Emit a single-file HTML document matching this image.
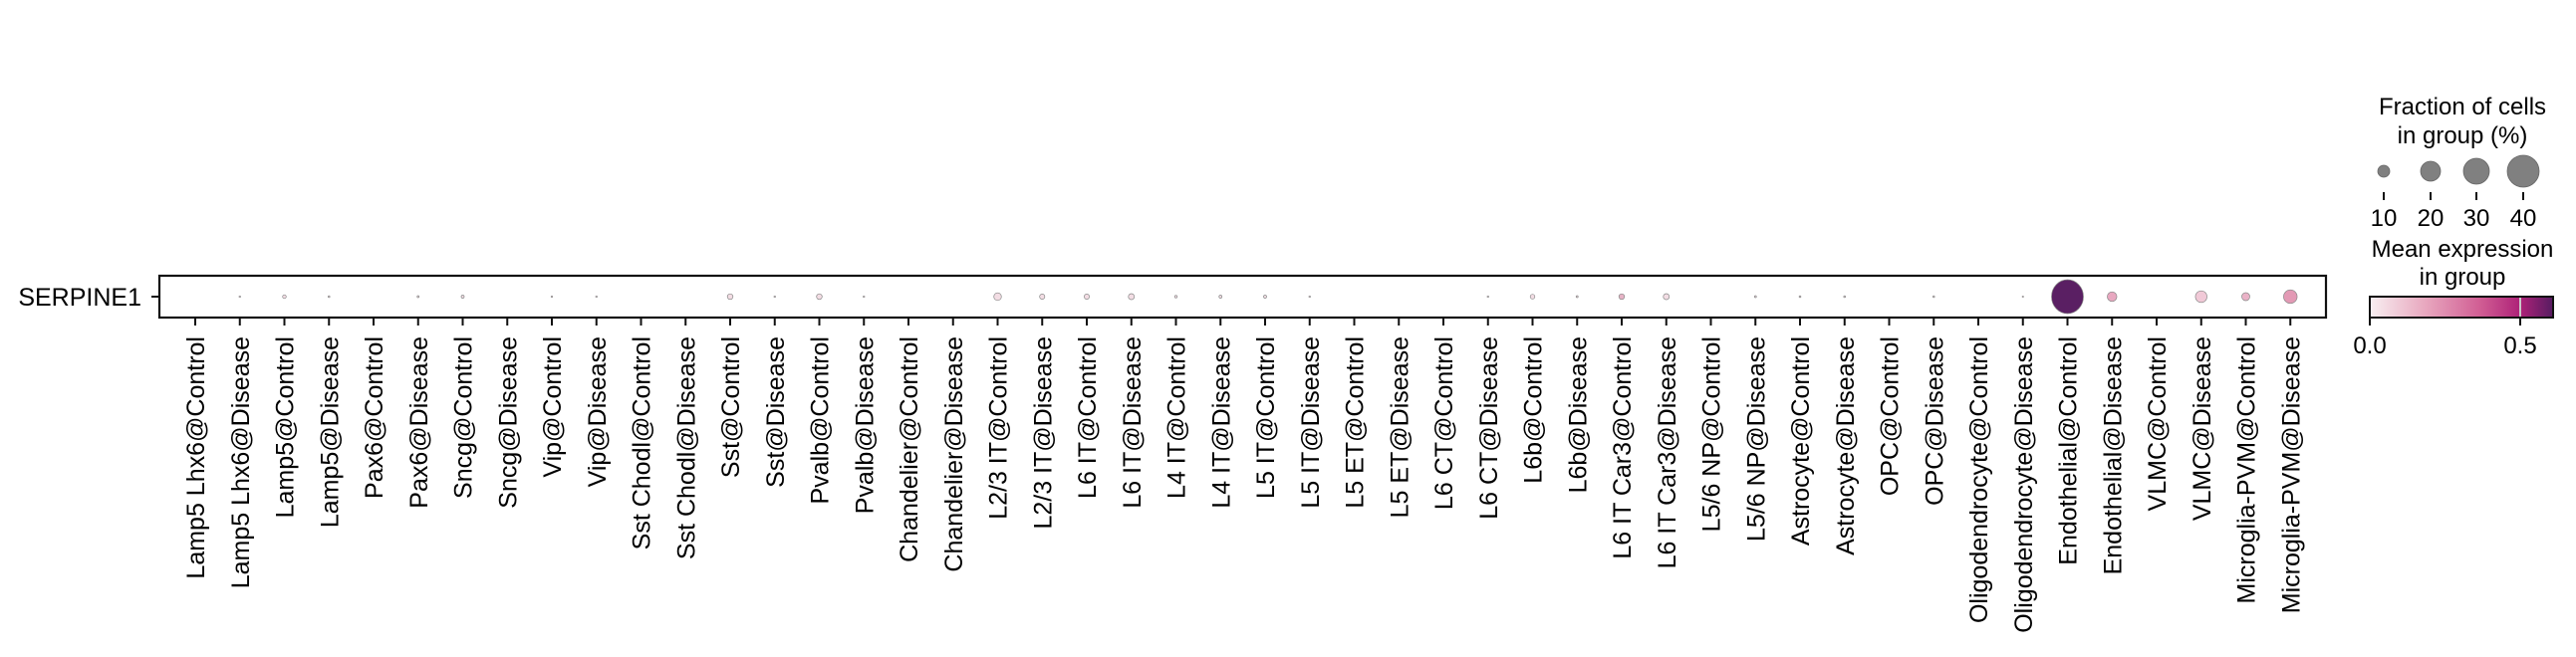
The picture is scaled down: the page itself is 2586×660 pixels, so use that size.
<!DOCTYPE html>
<html><head><meta charset="utf-8"><style>
html,body{margin:0;padding:0;background:#fff;}
svg{display:block;font-family:"Liberation Sans",Arial,sans-serif;}
</style></head><body>
<svg width="2586" height="660" viewBox="0 0 2586 660" xmlns="http://www.w3.org/2000/svg">
<defs>
<linearGradient id="cb" x1="0" x2="1" y1="0" y2="0">
<stop offset="0" stop-color="#f8eff1"/>
<stop offset="0.3" stop-color="#e8a8bf"/>
<stop offset="0.6" stop-color="#d15e94"/>
<stop offset="0.82" stop-color="#ae2278"/>
<stop offset="1" stop-color="#561c61"/>
</linearGradient>
</defs>
<!-- main box -->
<rect x="160" y="277" width="2175" height="42" fill="none" stroke="#111" stroke-width="2.2"/>
<line x1="152" y1="298" x2="160" y2="298" stroke="#111" stroke-width="2"/>
<text x="142" y="307" font-size="25" text-anchor="end">SERPINE1</text>
<!-- dots -->
<g stroke="#888" stroke-width="0.7" fill="#f3dde4">
<circle cx="240.75" cy="298" r="0.8"/>
<circle cx="285.5" cy="298" r="1.8"/>
<circle cx="330.25" cy="298" r="0.9"/>
<circle cx="419.75" cy="298" r="1"/>
<circle cx="464.5" cy="298" r="1.5"/>
<circle cx="554" cy="298" r="0.8"/>
<circle cx="598.75" cy="298" r="0.8"/>
<circle cx="733" cy="298" r="2.8"/>
<circle cx="777.75" cy="298" r="0.8"/>
<circle cx="822.5" cy="298" r="2.8"/>
<circle cx="867.25" cy="298" r="0.8"/>
<circle cx="1001.5" cy="298" r="3.8"/>
<circle cx="1046.25" cy="298" r="2.6"/>
<circle cx="1091" cy="298" r="2.6"/>
<circle cx="1135.75" cy="298" r="3"/>
<circle cx="1180.5" cy="298" r="1.3"/>
<circle cx="1225.25" cy="298" r="1.5"/>
<circle cx="1270" cy="298" r="1.5"/>
<circle cx="1314.75" cy="298" r="0.8"/>
<circle cx="1493.75" cy="298" r="0.8"/>
<circle cx="1538.5" cy="298" r="2.3"/>
<circle cx="1583.25" cy="298" r="1"/>
<circle cx="1628" cy="298" r="2.8" fill="#e6b3c6"/>
<circle cx="1672.75" cy="298" r="3"/>
<circle cx="1762.25" cy="298" r="1"/>
<circle cx="1807" cy="298" r="0.9"/>
<circle cx="1851.75" cy="298" r="0.9"/>
<circle cx="1941.25" cy="298" r="0.9"/>
<circle cx="2030.75" cy="298" r="0.7"/>
<ellipse cx="2075.5" cy="298" rx="16" ry="17" fill="#5a1f63"/>
<circle cx="2120.25" cy="298" r="4.8" fill="#e8a8c0"/>
<circle cx="2209.75" cy="298" r="5.8" fill="#f1c9d7"/>
<circle cx="2254.5" cy="298" r="4" fill="#eab2c7"/>
<circle cx="2299.25" cy="298" r="6.8" fill="#e39ab5"/>
</g>
<!-- ticks -->
<g stroke="#111" stroke-width="2">
<line x1="196" y1="319" x2="196" y2="327"/><line x1="240.75" y1="319" x2="240.75" y2="327"/><line x1="285.5" y1="319" x2="285.5" y2="327"/><line x1="330.25" y1="319" x2="330.25" y2="327"/><line x1="375" y1="319" x2="375" y2="327"/><line x1="419.75" y1="319" x2="419.75" y2="327"/><line x1="464.5" y1="319" x2="464.5" y2="327"/><line x1="509.25" y1="319" x2="509.25" y2="327"/><line x1="554" y1="319" x2="554" y2="327"/><line x1="598.75" y1="319" x2="598.75" y2="327"/><line x1="643.5" y1="319" x2="643.5" y2="327"/><line x1="688.25" y1="319" x2="688.25" y2="327"/><line x1="733" y1="319" x2="733" y2="327"/><line x1="777.75" y1="319" x2="777.75" y2="327"/><line x1="822.5" y1="319" x2="822.5" y2="327"/><line x1="867.25" y1="319" x2="867.25" y2="327"/><line x1="912" y1="319" x2="912" y2="327"/><line x1="956.75" y1="319" x2="956.75" y2="327"/><line x1="1001.5" y1="319" x2="1001.5" y2="327"/><line x1="1046.25" y1="319" x2="1046.25" y2="327"/><line x1="1091" y1="319" x2="1091" y2="327"/><line x1="1135.75" y1="319" x2="1135.75" y2="327"/><line x1="1180.5" y1="319" x2="1180.5" y2="327"/><line x1="1225.25" y1="319" x2="1225.25" y2="327"/><line x1="1270" y1="319" x2="1270" y2="327"/><line x1="1314.75" y1="319" x2="1314.75" y2="327"/><line x1="1359.5" y1="319" x2="1359.5" y2="327"/><line x1="1404.25" y1="319" x2="1404.25" y2="327"/><line x1="1449" y1="319" x2="1449" y2="327"/><line x1="1493.75" y1="319" x2="1493.75" y2="327"/><line x1="1538.5" y1="319" x2="1538.5" y2="327"/><line x1="1583.25" y1="319" x2="1583.25" y2="327"/><line x1="1628" y1="319" x2="1628" y2="327"/><line x1="1672.75" y1="319" x2="1672.75" y2="327"/><line x1="1717.5" y1="319" x2="1717.5" y2="327"/><line x1="1762.25" y1="319" x2="1762.25" y2="327"/><line x1="1807" y1="319" x2="1807" y2="327"/><line x1="1851.75" y1="319" x2="1851.75" y2="327"/><line x1="1896.5" y1="319" x2="1896.5" y2="327"/><line x1="1941.25" y1="319" x2="1941.25" y2="327"/><line x1="1986" y1="319" x2="1986" y2="327"/><line x1="2030.75" y1="319" x2="2030.75" y2="327"/><line x1="2075.5" y1="319" x2="2075.5" y2="327"/><line x1="2120.25" y1="319" x2="2120.25" y2="327"/><line x1="2165" y1="319" x2="2165" y2="327"/><line x1="2209.75" y1="319" x2="2209.75" y2="327"/><line x1="2254.5" y1="319" x2="2254.5" y2="327"/><line x1="2299.25" y1="319" x2="2299.25" y2="327"/>
</g>
<!-- labels -->
<g font-size="25" text-anchor="end" fill="#000">
<text transform="translate(205,338) rotate(-90)">Lamp5 Lhx6@Control</text>
<text transform="translate(249.75,338) rotate(-90)">Lamp5 Lhx6@Disease</text>
<text transform="translate(294.5,338) rotate(-90)">Lamp5@Control</text>
<text transform="translate(339.25,338) rotate(-90)">Lamp5@Disease</text>
<text transform="translate(384,338) rotate(-90)">Pax6@Control</text>
<text transform="translate(428.75,338) rotate(-90)">Pax6@Disease</text>
<text transform="translate(473.5,338) rotate(-90)">Sncg@Control</text>
<text transform="translate(518.25,338) rotate(-90)">Sncg@Disease</text>
<text transform="translate(563,338) rotate(-90)">Vip@Control</text>
<text transform="translate(607.75,338) rotate(-90)">Vip@Disease</text>
<text transform="translate(652.5,338) rotate(-90)">Sst Chodl@Control</text>
<text transform="translate(697.25,338) rotate(-90)">Sst Chodl@Disease</text>
<text transform="translate(742,338) rotate(-90)">Sst@Control</text>
<text transform="translate(786.75,338) rotate(-90)">Sst@Disease</text>
<text transform="translate(831.5,338) rotate(-90)">Pvalb@Control</text>
<text transform="translate(876.25,338) rotate(-90)">Pvalb@Disease</text>
<text transform="translate(921,338) rotate(-90)">Chandelier@Control</text>
<text transform="translate(965.75,338) rotate(-90)">Chandelier@Disease</text>
<text transform="translate(1010.5,338) rotate(-90)">L2/3 IT@Control</text>
<text transform="translate(1055.25,338) rotate(-90)">L2/3 IT@Disease</text>
<text transform="translate(1100,338) rotate(-90)">L6 IT@Control</text>
<text transform="translate(1144.75,338) rotate(-90)">L6 IT@Disease</text>
<text transform="translate(1189.5,338) rotate(-90)">L4 IT@Control</text>
<text transform="translate(1234.25,338) rotate(-90)">L4 IT@Disease</text>
<text transform="translate(1279,338) rotate(-90)">L5 IT@Control</text>
<text transform="translate(1323.75,338) rotate(-90)">L5 IT@Disease</text>
<text transform="translate(1368.5,338) rotate(-90)">L5 ET@Control</text>
<text transform="translate(1413.25,338) rotate(-90)">L5 ET@Disease</text>
<text transform="translate(1458,338) rotate(-90)">L6 CT@Control</text>
<text transform="translate(1502.75,338) rotate(-90)">L6 CT@Disease</text>
<text transform="translate(1547.5,338) rotate(-90)">L6b@Control</text>
<text transform="translate(1592.25,338) rotate(-90)">L6b@Disease</text>
<text transform="translate(1637,338) rotate(-90)">L6 IT Car3@Control</text>
<text transform="translate(1681.75,338) rotate(-90)">L6 IT Car3@Disease</text>
<text transform="translate(1726.5,338) rotate(-90)">L5/6 NP@Control</text>
<text transform="translate(1771.25,338) rotate(-90)">L5/6 NP@Disease</text>
<text transform="translate(1816,338) rotate(-90)">Astrocyte@Control</text>
<text transform="translate(1860.75,338) rotate(-90)">Astrocyte@Disease</text>
<text transform="translate(1905.5,338) rotate(-90)">OPC@Control</text>
<text transform="translate(1950.25,338) rotate(-90)">OPC@Disease</text>
<text transform="translate(1995,338) rotate(-90)">Oligodendrocyte@Control</text>
<text transform="translate(2039.75,338) rotate(-90)">Oligodendrocyte@Disease</text>
<text transform="translate(2084.5,338) rotate(-90)">Endothelial@Control</text>
<text transform="translate(2129.25,338) rotate(-90)">Endothelial@Disease</text>
<text transform="translate(2174,338) rotate(-90)">VLMC@Control</text>
<text transform="translate(2218.75,338) rotate(-90)">VLMC@Disease</text>
<text transform="translate(2263.5,338) rotate(-90)">Microglia-PVM@Control</text>
<text transform="translate(2308.25,338) rotate(-90)">Microglia-PVM@Disease</text>
</g>
<!-- size legend -->
<g font-size="24" text-anchor="middle">
<text x="2472" y="115">Fraction of cells</text>
<text x="2472" y="144">in group (%)</text>
</g>
<g fill="#808080" stroke="#666" stroke-width="0.8">
<circle cx="2393" cy="172" r="6"/>
<circle cx="2440" cy="172" r="10"/>
<circle cx="2486" cy="172" r="13"/>
<circle cx="2533" cy="172" r="16"/>
</g>
<g stroke="#111" stroke-width="2">
<line x1="2393" y1="193" x2="2393" y2="201"/>
<line x1="2440" y1="193" x2="2440" y2="201"/>
<line x1="2486" y1="193" x2="2486" y2="201"/>
<line x1="2533" y1="193" x2="2533" y2="201"/>
</g>
<g font-size="24" text-anchor="middle">
<text x="2393" y="227">10</text>
<text x="2440" y="227">20</text>
<text x="2486" y="227">30</text>
<text x="2533" y="227">40</text>
<text x="2472" y="258">Mean expression</text>
<text x="2472" y="286">in group</text>
</g>
<!-- colorbar -->
<rect x="2379" y="298" width="184" height="21" fill="url(#cb)"/>
<line x1="2530" y1="298" x2="2530" y2="319" stroke="#c8c8c8" stroke-width="2"/>
<rect x="2379" y="298" width="184" height="21" fill="none" stroke="#111" stroke-width="2"/>
<g stroke="#111" stroke-width="2">
<line x1="2379" y1="319" x2="2379" y2="327"/>
<line x1="2530" y1="319" x2="2530" y2="327"/>
</g>
<g font-size="24" text-anchor="middle">
<text x="2379" y="355">0.0</text>
<text x="2530" y="355">0.5</text>
</g>
</svg>
</body></html>
